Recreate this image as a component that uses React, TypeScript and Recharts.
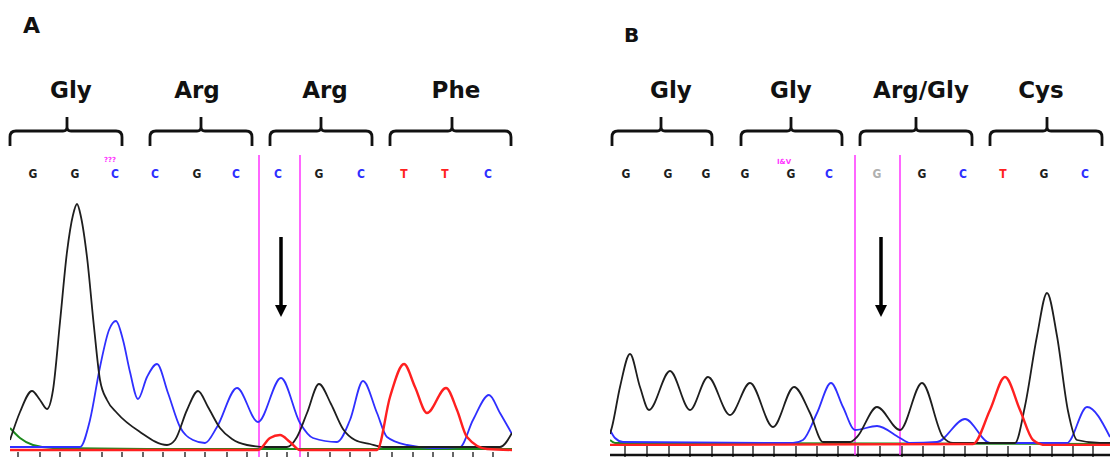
import React from 'react';
import { LineChart, Line, XAxis, YAxis, ReferenceLine, ReferenceArea, ReferenceDot } from 'recharts';

type Pt = [number, number];

// ---------- Panel A traces: [scan position, signal] ----------
const aTraceG: Pt[] = [[0,12],[10,40],[22,61],[30,52],[37,43],[43,62],[50,130],[57,200],[63,237],[67,248],[71,235],[77,195],[84,125],[90,72],[97,52],[107,39],[130,20],[157,7],[165,12],[177,42],[188,61],[198,45],[210,24],[222,13],[237,7],[257,5],[277,5],[287,15],[297,39],[309,68],[321,48],[333,23],[345,12],[360,8],[373,5],[490,5],[502,19]];
const aTraceC: Pt[] = [[0,5],[70,5],[80,32],[90,85],[99,122],[106,131],[113,112],[120,80],[128,53],[137,75],[147,88],[158,59],[170,25],[183,12],[195,9],[207,25],[227,64],[248,30],[271,74],[290,29],[303,14],[327,10],[340,32],[353,71],[367,39],[377,15],[397,7],[423,4],[450,5],[463,32],[479,57],[490,39],[502,18]];
const aTraceT: Pt[] = [[0,2],[248,2],[260,14],[270,17],[280,10],[290,2],[367,2],[380,55],[394,88],[405,65],[417,39],[436,64],[447,42],[457,15],[477,3],[502,2]];
const aTraceA: Pt[] = [[0,24],[10,14],[23,7],[43,4],[150,3],[502,3]];

// ---------- Panel B traces ----------
const bTraceG: Pt[] = [[0,12],[2,19],[10,59],[20,92],[30,59],[39,36],[60,75],[80,36],[98,69],[120,31],[140,63],[163,19],[184,59],[200,33],[213,4],[240,4],[247,9],[267,39],[290,16],[312,63],[333,9],[343,3],[405,3],[415,40],[427,110],[437,153],[447,110],[458,35],[467,6],[490,3],[500,3]];
const bTraceC: Pt[] = [[0,16],[5,8],[13,4],[183,3],[193,6],[207,33],[221,63],[233,39],[245,16],[267,20],[290,8],[300,3],[327,4],[355,27],[380,3],[457,3],[477,39],[500,9]];
const bTraceT: Pt[] = [[0,1],[363,2],[380,36],[395,69],[410,36],[423,6],[435,1],[500,1]];
const bTraceA: Pt[] = [[0,6],[5,3],[500,2]];

// ---------- Base calls ----------
const aBasePos = [23,65,105,145,187,226,268,309,351,394,435,478];
const aBaseCalls = ['G','G','C','C','G','C','C','G','C','T','T','C'];
const bBasePos = [16,58,96,135,181,219,267,312,353,393,434,475];
const bBaseCalls = ['G','G','G','G','G','C','G','G','C','T','G','C'];
const bFaintBases = [6];

// ---------- Codons ----------
const aCodonLabels = ['Gly','Arg','Arg','Phe'];
const aCodonStart = [0,140,260,380];
const aCodonEnd = [112,242,362,501];
const aCodonNotch = [57,191,311,442];
const aCodonLabelPos = [61,187,315,446];

const bCodonLabels = ['Gly','Gly','Arg/Gly','Cys'];
const bCodonStart = [2,131,250,380];
const bCodonEnd = [102,232,362,492];
const bCodonNotch = [51,181,306,437];
const bCodonLabelPos = [61,181,311,431];

// ---------- Markers, arrows, notes, ticks ----------
const aMarkers = [249, 290];
const bMarkers = [245, 290];
const aArrowX = 271;
const bArrowX = 271;
const aNoteText = '???';
const aNoteX = 100;
const bNoteText = 'I&V';
const bNoteX = 174;
const aTicks = [8,30,50,70,92,112,133,153,175,195,217,237,257,277,298,320,340,360,382,403,423,443,463,483];
const bTicks = [15,37,59,80,102,123,143,164,186,207,228,248,270,292,313,334,355,377,398,420,442,463,483];

const COLORS: Record<string, string> = { G: '#1e1e1e', C: '#2f2fff', T: '#ff2020', A: '#1d8a1d' };
const FONT = '"DejaVu Sans", Verdana, sans-serif';

const toData = (pts: Pt[]) => pts.map(([s, v]) => ({ s, v }));

function Brace(props: any) {
  const { x, y, width, height, notchFrac, labelFrac, label } = props;
  const r = 6;
  const yh = y + 14;
  const nx = x + notchFrac * width;
  const right = x + width;
  const d = `M ${x} ${y + height} L ${x} ${yh + r} Q ${x} ${yh} ${x + r} ${yh} L ${nx - 4} ${yh} Q ${nx} ${yh} ${nx} ${yh - 4} L ${nx} ${y} M ${nx} ${yh - 4} Q ${nx} ${yh} ${nx + 4} ${yh} L ${right - r} ${yh} Q ${right} ${yh} ${right} ${yh + r} L ${right} ${y + height}`;
  return (
    <g>
      <path d={d} fill="none" stroke="#111" strokeWidth={2.8} />
      <text x={x + labelFrac * width} y={y - 19} textAnchor="middle" fontFamily={FONT} fontWeight="bold" fontSize={23} fill="#111">{label}</text>
    </g>
  );
}

function Arrow(props: any) {
  const { x1, y1, x2, y2 } = props;
  const top = Math.min(y1, y2);
  const bottom = Math.max(y1, y2);
  const x = (x1 + x2) / 2;
  return (
    <g>
      <line x1={x} y1={top} x2={x} y2={bottom - 10} stroke="#000" strokeWidth={3.5} />
      <polygon points={`${x - 6},${bottom - 12} ${x + 6},${bottom - 12} ${x},${bottom}`} fill="#000" />
    </g>
  );
}

const EmptyTick = () => <g />;

type PanelProps = {
  left: number;
  traces: { G: Pt[]; C: Pt[]; T: Pt[]; A: Pt[] };
  basePos: number[];
  calls: string[];
  faint: number[];
  codonLabels: string[];
  codonStart: number[];
  codonEnd: number[];
  codonNotch: number[];
  codonLabelPos: number[];
  markers: number[];
  arrowX: number;
  noteText: string;
  noteX: number;
  ticks: number[];
  margin: { top: number; left: number; right: number; bottom: number };
  axisHeight: number;
  xMax: number;
  braceLow: number;
  braceHigh: number;
  callY: number;
  noteY: number;
  arrowTop: number;
  arrowBottom: number;
  markerLow: number;
  markerHigh: number;
  bottomLine: boolean;
};

function Panel(p: PanelProps) {
  return (
    <div style={{ position: 'absolute', left: p.left, top: 0 }}>
      <LineChart width={555} height={457} margin={p.margin}>
        <XAxis
          type="number"
          dataKey="s"
          domain={[0, p.xMax]}
          ticks={p.ticks}
          tick={EmptyTick}
          tickLine={{ stroke: '#000', strokeWidth: 1.2 }}
          tickSize={p.axisHeight}
          tickMargin={0}
          axisLine={false}
          height={p.axisHeight}
          interval={0}
          allowDataOverflow
        />
        <YAxis hide domain={[0, 300]} allowDataOverflow />
        {p.bottomLine && (
          <ReferenceLine y={-9} stroke="#111" strokeWidth={2.5} ifOverflow="visible" />
        )}
        {p.markers.map((m, i) => (
          <ReferenceLine
            key={'m' + i}
            segment={[{ x: m, y: p.markerLow }, { x: m, y: p.markerHigh }]}
            stroke="#ff33ff"
            strokeWidth={1.5}
            ifOverflow="visible"
          />
        ))}
        <Line data={toData(p.traces.A)} dataKey="v" type="monotone" stroke={COLORS.A} strokeWidth={2} dot={false} isAnimationActive={false} />
        <Line data={toData(p.traces.C)} dataKey="v" type="monotone" stroke={COLORS.C} strokeWidth={1.8} dot={false} isAnimationActive={false} />
        <Line data={toData(p.traces.G)} dataKey="v" type="monotone" stroke={COLORS.G} strokeWidth={1.8} dot={false} isAnimationActive={false} />
        <Line data={toData(p.traces.T)} dataKey="v" type="monotone" stroke={COLORS.T} strokeWidth={2.4} dot={false} isAnimationActive={false} />
        <ReferenceLine
          segment={[{ x: p.arrowX, y: p.arrowTop }, { x: p.arrowX, y: p.arrowBottom }]}
          ifOverflow="visible"
          shape={(sp: any) => <Arrow {...sp} />}
        />
        {p.basePos.map((b, i) => (
          <ReferenceDot
            key={'b' + i}
            x={b}
            y={p.callY}
            ifOverflow="visible"
            shape={(sp: any) => (
              <text
                x={sp.cx}
                y={sp.cy}
                textAnchor="middle"
                fontFamily='"Liberation Sans Narrow", "DejaVu Sans Condensed", sans-serif'
                fontWeight="bold"
                fontSize={12}
                fill={p.faint.includes(i) ? '#b0b0b0' : COLORS[p.calls[i]]}
              >
                {p.calls[i]}
              </text>
            )}
          />
        ))}
        <ReferenceDot
          x={p.noteX}
          y={p.noteY}
          ifOverflow="visible"
          shape={(sp: any) => (
            <text x={sp.cx} y={sp.cy} textAnchor="middle" fontFamily={FONT} fontWeight="bold" fontSize={7} fill="#ff33ff">
              {p.noteText}
            </text>
          )}
        />
        {p.codonLabels.map((lab, i) => {
          const w = p.codonEnd[i] - p.codonStart[i];
          return (
            <ReferenceArea
              key={'c' + i}
              x1={p.codonStart[i]}
              x2={p.codonEnd[i]}
              y1={p.braceLow}
              y2={p.braceHigh}
              ifOverflow="visible"
              shape={(sp: any) => (
                <Brace
                  {...sp}
                  label={lab}
                  notchFrac={(p.codonNotch[i] - p.codonStart[i]) / w}
                  labelFrac={(p.codonLabelPos[i] - p.codonStart[i]) / w}
                />
              )}
            />
          );
        })}
      </LineChart>
    </div>
  );
}

export default function App() {
  return (
    <div style={{ position: 'absolute', left: 0, top: 0, width: 1110, height: 457, background: '#fff', overflow: 'hidden' }}>
      <Panel
        left={0}
        traces={{ G: aTraceG, C: aTraceC, T: aTraceT, A: aTraceA }}
        basePos={aBasePos}
        calls={aBaseCalls}
        faint={[]}
        codonLabels={aCodonLabels}
        codonStart={aCodonStart}
        codonEnd={aCodonEnd}
        codonNotch={aCodonNotch}
        codonLabelPos={aCodonLabelPos}
        markers={aMarkers}
        arrowX={aArrowX}
        noteText={aNoteText}
        noteX={aNoteX}
        ticks={aTicks}
        margin={{ top: 152, left: 10, right: 43, bottom: 0 }}
        axisHeight={5}
        xMax={502}
        braceLow={306}
        braceHigh={335}
        callY={274}
        noteY={290}
        arrowTop={215}
        arrowBottom={135}
        markerLow={-5}
        markerHigh={297}
        bottomLine={false}
      />
      <Panel
        left={555}
        traces={{ G: bTraceG, C: bTraceC, T: bTraceT, A: bTraceA }}
        basePos={bBasePos}
        calls={bBaseCalls}
        faint={bFaintBases}
        codonLabels={bCodonLabels}
        codonStart={bCodonStart}
        codonEnd={bCodonEnd}
        codonNotch={bCodonNotch}
        codonLabelPos={bCodonLabelPos}
        markers={bMarkers}
        arrowX={bArrowX}
        noteText={bNoteText}
        noteX={bNoteX}
        ticks={bTicks}
        margin={{ top: 146, left: 55, right: 0, bottom: 0 }}
        axisHeight={11}
        xMax={500}
        braceLow={300}
        braceHigh={329}
        callY={268}
        noteY={282}
        arrowTop={209}
        arrowBottom={129}
        markerLow={-9}
        markerHigh={291}
        bottomLine={true}
      />
      <svg width={1110} height={457} style={{ position: 'absolute', left: 0, top: 0, pointerEvents: 'none' }}>
        <text x={23} y={33} fontFamily={FONT} fontWeight="bold" fontSize={22} fill="#111">A</text>
        <text x={624} y={42} fontFamily={FONT} fontWeight="bold" fontSize={20} fill="#111">B</text>
      </svg>
    </div>
  );
}
